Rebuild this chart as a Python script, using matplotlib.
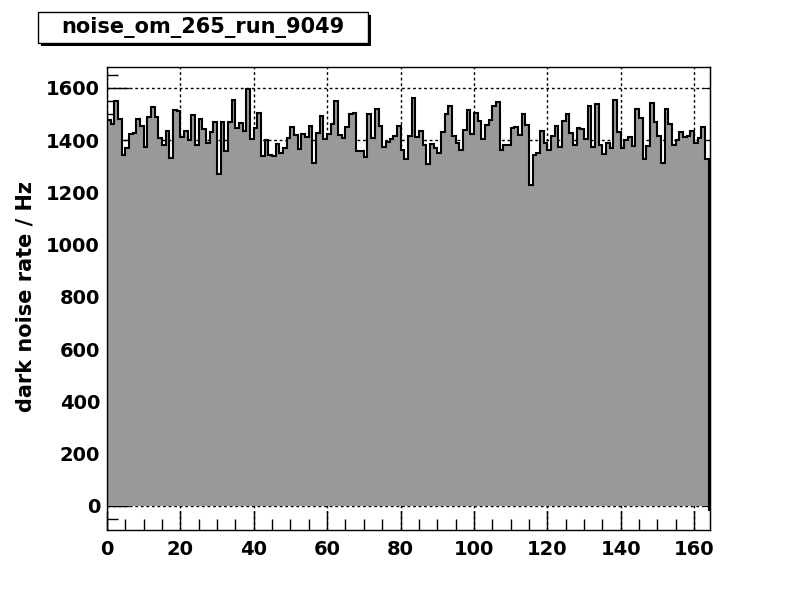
import matplotlib
matplotlib.use("Agg")
import matplotlib.pyplot as plt
from matplotlib.patches import Rectangle
from matplotlib.ticker import MultipleLocator
import numpy as np

plt.rcParams["font.family"] = ["DejaVu Sans"]
plt.rcParams["font.weight"] = "bold"

title = "noise_om_265_run_9049"
y_label = "dark noise rate / Hz"

# dark noise rate per bin (bin width 1, starting at 0)
rates = [
    1478, 1460, 1549, 1482, 1344, 1371, 1422, 1427, 1480, 1456,
    1373, 1488, 1526, 1490, 1409, 1383, 1434, 1332, 1515, 1511,
    1411, 1434, 1399, 1496, 1383, 1480, 1442, 1391, 1431, 1469,
    1270, 1469, 1360, 1469, 1554, 1446, 1465, 1436, 1596, 1405,
    1446, 1503, 1340, 1399, 1344, 1339, 1385, 1350, 1371, 1409,
    1450, 1419, 1366, 1423, 1413, 1453, 1312, 1429, 1492, 1404,
    1424, 1461, 1549, 1419, 1409, 1450, 1499, 1503, 1357, 1360,
    1336, 1499, 1409, 1520, 1456, 1374, 1392, 1405, 1417, 1453,
    1363, 1327, 1415, 1561, 1413, 1434, 1381, 1308, 1385, 1371,
    1350, 1431, 1501, 1530, 1417, 1390, 1362, 1438, 1515, 1424,
    1503, 1473, 1405, 1457, 1478, 1530, 1545, 1362, 1381, 1381,
    1448, 1451, 1420, 1499, 1457, 1229, 1344, 1352, 1434, 1390,
    1364, 1415, 1453, 1373, 1473, 1499, 1427, 1381, 1446, 1441,
    1404, 1530, 1373, 1538, 1381, 1346, 1389, 1371, 1553, 1431,
    1369, 1399, 1411, 1377, 1518, 1485, 1326, 1377, 1541, 1471,
    1415, 1312, 1518, 1461, 1381, 1400, 1431, 1414, 1417, 1436,
    1389, 1409, 1450, 1327, -15,
]
edges = np.arange(len(rates) + 1)

fig = plt.figure(figsize=(8, 6), dpi=100)
ax = fig.add_axes([107 / 800, 1 - 530 / 600, 603 / 800, 463 / 600])

ax.stairs(rates, edges, fill=True, color="#999999", baseline=0, zorder=2)
ax.stairs(rates, edges, fill=False, color="black", baseline=0, linewidth=1.5, zorder=3)

ax.set_xlim(0, 164.35)
ax.set_ylim(-92, 1680)

ax.xaxis.set_major_locator(MultipleLocator(20))
ax.xaxis.set_minor_locator(MultipleLocator(5))
ax.yaxis.set_major_locator(MultipleLocator(200))
ax.yaxis.set_minor_locator(MultipleLocator(50))

ax.grid(True, which="major", linestyle=(0, (2, 2)), color="black", linewidth=1, zorder=1)
ax.set_axisbelow(True)

ax.tick_params(axis="both", which="both", direction="in", width=1, color="black", labelsize=14)
ax.tick_params(axis="y", which="major", length=16, pad=5)
ax.tick_params(axis="y", which="minor", length=8)
ax.tick_params(axis="x", which="major", length=14, pad=7)
ax.tick_params(axis="x", which="minor", length=8)
for lab in ax.get_xticklabels() + ax.get_yticklabels():
    lab.set_fontweight("bold")

for side in ax.spines.values():
    side.set_linewidth(1)
    side.set_zorder(5)

# short ticks on the right side
sec = ax.secondary_yaxis("right")
sec.yaxis.set_major_locator(MultipleLocator(200))
sec.tick_params(direction="in", length=4, labelright=False)

fig.text(26 / 800, 1 - 297 / 600, y_label, rotation=90, ha="center", va="center",
         fontsize=15, fontweight="bold")

# title box with shadow
fig.patches.append(Rectangle((41 / 800, 1 - 46 / 600), 330 / 800, 31 / 600,
                             transform=fig.transFigure, facecolor="black", edgecolor="none"))
fig.patches.append(Rectangle((38 / 800, 1 - 43 / 600), 330 / 800, 31 / 600,
                             transform=fig.transFigure, facecolor="white", edgecolor="black", linewidth=1))
fig.text(203 / 800, 1 - 28 / 600, title, ha="center", va="center", fontsize=15, fontweight="bold")

fig.savefig("out.png", dpi=100)
